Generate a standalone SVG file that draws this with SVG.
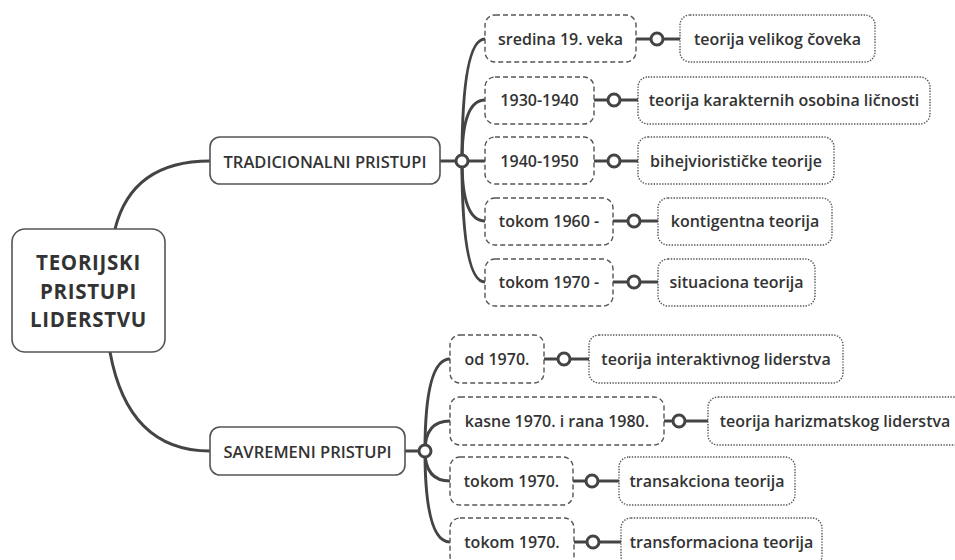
<svg xmlns="http://www.w3.org/2000/svg" width="955" height="560" viewBox="0 0 955 560">
  <style>
    text { font-family: "Open Sans", "Liberation Sans", sans-serif; fill: #333; text-anchor: middle; dominant-baseline: central; font-weight: 600; }
    .root rect { fill: #fff; stroke: #555; stroke-width: 1.6; }
    .root text { font-size: 20.5px; font-weight: 700; letter-spacing: 0.7px; }
    .main rect { fill: #fff; stroke: #555; stroke-width: 1.6; }
    .main text { font-size: 16.5px; }
    .era rect { fill: #fff; stroke: #555; stroke-width: 1.4; stroke-dasharray: 5 3; }
    .leaf rect { fill: #fff; stroke: #555; stroke-width: 1.4; stroke-dasharray: 1.4 1.4; }
    .era text, .leaf text { font-size: 16px; }
    .link { fill: none; stroke: #444; stroke-width: 3; stroke-linecap: round; }
    .joint { fill: #fff; stroke: #444; stroke-width: 3; }
  </style>
  <rect width="955" height="560" fill="#fff"/>

  <!-- connectors -->
  <g id="connectors">
    <!-- root to main topics -->
    <path class="link" d="M115 229 Q132 161 210 161"/>
    <path class="link" d="M110 352 Q128 451 210 451"/>
    <!-- TRADICIONALNI PRISTUPI branches -->
    <path class="link" d="M440 161 L462 161"/>
    <path class="link" d="M462 161 Q462 39 485 39"/>
    <path class="link" d="M462 161 Q462 100 485 100"/>
    <path class="link" d="M462 161 L485 161"/>
    <path class="link" d="M462 161 Q462 221 485 221"/>
    <path class="link" d="M462 161 Q462 282 485 282"/>
    <!-- SAVREMENI PRISTUPI branches -->
    <path class="link" d="M405 451 L425 451"/>
    <path class="link" d="M425 451 Q425 359 450 359"/>
    <path class="link" d="M425 451 Q425 421 450 421"/>
    <path class="link" d="M425 451 Q425 481 450 481"/>
    <path class="link" d="M425 451 Q425 542 450 542"/>
    <circle class="joint" cx="462" cy="161" r="6"/>
    <circle class="joint" cx="425" cy="451" r="6"/>
    <!-- era to theory links -->
    <path class="link" d="M636 39 H680"/><circle class="joint" cx="657" cy="39" r="6"/>
    <path class="link" d="M594 100 H638"/><circle class="joint" cx="614" cy="100" r="6"/>
    <path class="link" d="M594 161 H638"/><circle class="joint" cx="614" cy="161" r="6"/>
    <path class="link" d="M613 221 H658"/><circle class="joint" cx="634" cy="221" r="6"/>
    <path class="link" d="M613 282 H658"/><circle class="joint" cx="634" cy="282" r="6"/>
    <path class="link" d="M544 359 H589"/><circle class="joint" cx="564" cy="359" r="6"/>
    <path class="link" d="M664 421 H708"/><circle class="joint" cx="679" cy="421" r="6"/>
    <path class="link" d="M573 481 H619"/><circle class="joint" cx="592" cy="481" r="6"/>
    <path class="link" d="M574 542 H621"/><circle class="joint" cx="593" cy="542" r="6"/>
  </g>

  <!-- central topic -->
  <g id="root" class="root">
    <rect x="12" y="229" width="153" height="123" rx="13"/>
    <text x="88.5" y="262">TEORIJSKI</text>
    <text x="88.5" y="290.5">PRISTUPI</text>
    <text x="88.5" y="319">LIDERSTVU</text>
  </g>

  <!-- main topics -->
  <g id="tradicionalni" class="main">
    <rect x="210" y="137" width="230" height="47" rx="10"/>
    <text x="325" y="161">TRADICIONALNI PRISTUPI</text>
  </g>
  <g id="savremeni" class="main">
    <rect x="210" y="427" width="195" height="48" rx="10"/>
    <text x="307.5" y="451">SAVREMENI PRISTUPI</text>
  </g>

  <!-- periods -->
  <g id="era-1" class="era"><rect x="485" y="15" width="151" height="47" rx="10"/><text x="560.5" y="39">sredina 19. veka</text></g>
  <g id="era-2" class="era"><rect x="485" y="77" width="109" height="47" rx="10"/><text x="539.5" y="100">1930-1940</text></g>
  <g id="era-3" class="era"><rect x="485" y="137" width="109" height="47" rx="10"/><text x="539.5" y="161">1940-1950</text></g>
  <g id="era-4" class="era"><rect x="485" y="198" width="128" height="47" rx="10"/><text x="549" y="221">tokom 1960 -</text></g>
  <g id="era-5" class="era"><rect x="485" y="259" width="128" height="47" rx="10"/><text x="549" y="282">tokom 1970 -</text></g>
  <g id="era-6" class="era"><rect x="450" y="335" width="94" height="48" rx="10"/><text x="497" y="359">od 1970.</text></g>
  <g id="era-7" class="era"><rect x="450" y="397" width="214" height="48" rx="10"/><text x="557" y="421">kasne 1970. i rana 1980.</text></g>
  <g id="era-8" class="era"><rect x="450" y="457" width="123" height="48" rx="10"/><text x="511.5" y="481">tokom 1970.</text></g>
  <g id="era-9" class="era"><rect x="450" y="518" width="124" height="48" rx="10"/><text x="512" y="542">tokom 1970.</text></g>

  <!-- theories -->
  <g id="theory-1" class="leaf"><rect x="680" y="15" width="195" height="47" rx="10"/><text x="777.5" y="39">teorija velikog čoveka</text></g>
  <g id="theory-2" class="leaf"><rect x="638" y="77" width="292" height="47" rx="10"/><text x="784" y="100">teorija karakternih osobina ličnosti</text></g>
  <g id="theory-3" class="leaf"><rect x="638" y="137" width="196" height="47" rx="10"/><text x="736" y="161">bihejviorističke teorije</text></g>
  <g id="theory-4" class="leaf"><rect x="658" y="198" width="174" height="47" rx="10"/><text x="745" y="221">kontigentna teorija</text></g>
  <g id="theory-5" class="leaf"><rect x="658" y="259" width="157" height="47" rx="10"/><text x="736.5" y="282">situaciona teorija</text></g>
  <g id="theory-6" class="leaf"><rect x="589" y="335" width="254" height="48" rx="10"/><text x="716" y="359">teorija interaktivnog liderstva</text></g>
  <g id="theory-7" class="leaf"><rect x="708" y="397" width="262" height="48" rx="10"/><text x="835" y="421">teorija harizmatskog liderstva</text></g>
  <g id="theory-8" class="leaf"><rect x="619" y="457" width="176" height="48" rx="10"/><text x="707" y="481">transakciona teorija</text></g>
  <g id="theory-9" class="leaf"><rect x="621" y="518" width="201" height="48" rx="10"/><text x="721.5" y="542">transformaciona teorija</text></g>
</svg>
